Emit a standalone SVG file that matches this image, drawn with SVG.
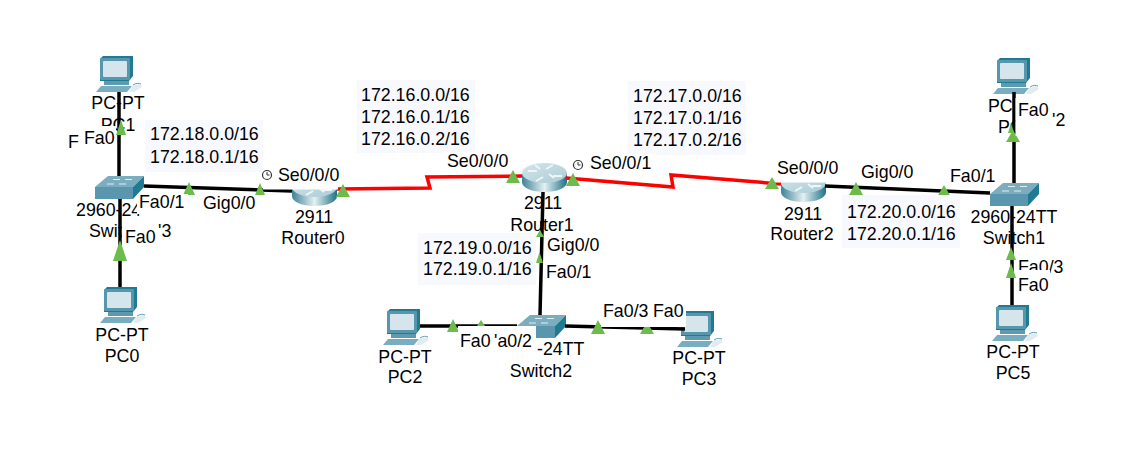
<svg xmlns="http://www.w3.org/2000/svg" width="1128" height="460" viewBox="0 0 1128 460">
<style>
text{font-family:"Liberation Sans",Arial,sans-serif;font-size:17.8px;fill:#000}
.m{text-anchor:middle}
.k{fill:none;stroke:#000;stroke-width:3.5}
.r{fill:none;stroke:#f00;stroke-width:3.5}
.t{fill:#6dbb4b}
.w{fill:#fff}
.n{fill:#f8f8ff}
.c{fill:#fff;stroke:#333;stroke-width:1.2}
</style>
<defs>
<linearGradient id="rb" x1="0" x2="1" y1="0" y2="0"><stop offset="0" stop-color="#3f8298"/><stop offset=".5" stop-color="#e4f0f3"/><stop offset="1" stop-color="#1f7288"/></linearGradient>
<linearGradient id="rt" x1="0" x2="1" y1="0" y2="1"><stop offset="0" stop-color="#d5e5ea"/><stop offset="1" stop-color="#a9ccd7"/></linearGradient>
<symbol id="pc" width="46" height="37" viewBox="0 0 46 37" overflow="visible">
<polygon points="4,3 7,0 37,0 37,20 33,25 4,25" fill="#1f7a92"/>
<rect x="4" y="2" width="30" height="22" rx="1" fill="#5797ad"/>
<rect x="7" y="5" width="24" height="16" rx="1" fill="#d6e4ec"/>
<rect x="8" y="25" width="25" height="4" fill="#5d9ab0"/>
<polygon points="5,30 36,30 31,36 0,36" fill="#78aec0"/>
<polygon points="36,30 44,28 46,31 38,36 33,36" fill="#e0ecf0"/>
<path d="M37 29c3-2 6-2 8-1" fill="none" stroke="#5d9fb5"/>
</symbol>
<symbol id="sw" width="49" height="23" viewBox="0 0 49 23" overflow="visible">
<polygon points="0,11 13,0 49,0 38,11" fill="#7badbe"/>
<rect x="0" y="11" width="38" height="12" fill="#5a97ae"/>
<polygon points="38,11 49,0 49,11 38,23" fill="#1f7a92"/>
<path d="M12 8h7M24 8h7M18 3.500h7M30 3.500h7" stroke="#dfeef2" stroke-width="1.200"/>
</symbol>
<symbol id="rtr" width="45" height="29" viewBox="0 0 45 29" overflow="visible">
<path d="M0 10V19C0 25 10 29 22.500 29S45 25 45 19V10Z" fill="url(#rb)"/>
<ellipse cx="22.500" cy="10" rx="22.500" ry="10" fill="url(#rt)"/>
<path d="M6 8h9M31 13h9M24 6l7-4M14 18l7-4M27 11l5 4M13 2l5 4" stroke="#f0f6f8" stroke-width="1.800" fill="none"/>
</symbol>
</defs>

<g id="PC1"><use href="#pc" x="96" y="56"/><text class="m" x="118" y="109">PC-PT</text><text class="m" x="118" y="131">PC1</text></g>
<g id="PC0"><use href="#pc" x="100" y="287"/><text class="m" x="122" y="341">PC-PT</text><text class="m" x="122" y="362">PC0</text></g>
<g id="Switch0"><use href="#sw" x="95" y="176"/><text x="76" y="216">2960-24</text><text x="89" y="237">Swit</text></g>
<g id="Router0"><use href="#rtr" x="292" y="177"/><text class="m" x="314" y="223">2911</text><text class="m" x="313" y="244">Router0</text></g>
<g id="Router1"><use href="#rtr" x="522" y="163"/><text class="m" x="543" y="209">2911</text><text class="m" x="542" y="231">Router1</text></g>
<g id="Router2"><use href="#rtr" x="781" y="173"/><text class="m" x="803" y="220">2911</text><text class="m" x="802" y="240">Router2</text></g>
<g id="Switch2"><use href="#sw" x="517" y="315"/><text x="537" y="355">-24TT</text><text class="m" x="541" y="377">Switch2</text></g>
<g id="PC2"><use href="#pc" x="383" y="309"/><text class="m" x="405" y="363">PC-PT</text><text class="m" x="405" y="383">PC2</text></g>
<g id="PC3"><use href="#pc" x="677" y="311"/><text class="m" x="699" y="364">PC-PT</text><text class="m" x="699" y="385">PC3</text></g>
<g id="Switch1"><use href="#sw" x="990" y="183"/><text class="m" x="1014" y="223">2960-24TT</text><text class="m" x="1014" y="244">Switch1</text></g>
<g id="PC4"><use href="#pc" x="993" y="58"/><text x="988" y="112">PC</text><text x="998" y="133">PC</text></g>
<g id="PC5"><use href="#pc" x="992" y="305"/><text class="m" x="1013" y="358">PC-PT</text><text class="m" x="1013" y="379">PC5</text></g>

<g id="connectors">
<path class="k" d="M119 92V176"/>
<path class="k" d="M120 199V287"/>
<path class="k" d="M144 186L292 191"/>
<path class="r" d="M337 189L430 188L427 177L522 176"/>
<path class="r" d="M566 178L673 187L671 175L781 184"/>
<path class="k" d="M825 186L990 193"/>
<path class="k" d="M543 192L540 315"/>
<path class="k" d="M420 326H517"/>
<path class="k" d="M565 326L685 329"/>
<path class="k" d="M1014 92V183"/>
<path class="k" d="M1012 206L1012 305"/>
<g class="t">
<polygon points="121,120 126,135 116,135"/>
<polygon points="120,240 127,261 113,261"/>
<polygon points="189,182 195,195 183,195"/>
<polygon points="260,183 265,195 255,195"/>
<polygon points="343,184 350,197 336,197"/>
<polygon points="513,170 520,183 506,183"/>
<polygon points="573,173 580,186 566,186"/>
<polygon points="540,230 544,237 536,237"/>
<polygon points="453,319 459,332 447,332"/>
<polygon points="481,320 485,326 477,326"/>
<polygon points="598,320 605,334 591,334"/>
<polygon points="647,322 654,334 640,334"/>
<polygon points="772,177 779,189 765,189"/>
<polygon points="856,182 863,195 849,195"/>
<polygon points="944,185 951,197 937,197"/>
<polygon points="1013,130 1020,142 1006,142"/>
<polygon points="1011,123 1014,133 1008,133"/>
<polygon points="1011,247 1016,260 1006,260"/>
<polygon points="1011,263 1016,278 1006,278"/>
</g>
</g>

<g id="networks">
<rect class="n" x="145" y="120" width="118" height="52"/>
<text x="150" y="140">172.18.0.0/16</text><text x="150" y="163">172.18.0.1/16</text>
<rect class="n" x="357" y="80" width="118" height="73"/>
<text x="361" y="101">172.16.0.0/16</text><text x="361" y="123">172.16.0.1/16</text><text x="361" y="145">172.16.0.2/16</text>
<rect class="n" x="628" y="81" width="118" height="74"/>
<text x="633" y="102">172.17.0.0/16</text><text x="633" y="124">172.17.0.1/16</text><text x="633" y="146">172.17.0.2/16</text>
<rect class="n" x="418" y="233" width="118" height="52"/>
<text x="423" y="254">172.19.0.0/16</text><text x="423" y="275">172.19.0.1/16</text>
<polygon class="t" points="539.500,252 543,263 536,263"/>
<rect class="n" x="842" y="195" width="118" height="53"/>
<text x="847" y="218">172.20.0.0/16</text><text x="847" y="240">172.20.0.1/16</text>
</g>

<g id="ports">
<rect class="w" x="66" y="126" width="50" height="26"/>
<text x="68" y="148">F</text><text x="84" y="144">Fa0</text>
<rect class="w" x="137" y="194" width="51" height="20"/>
<text x="139" y="208">Fa0/1</text>
<rect class="w" x="200" y="195" width="56" height="20"/>
<text x="203" y="209">Gig0/0</text>
<rect class="w" x="263" y="166" width="75" height="23.500"/>
<circle class="c" cx="267" cy="175" r="4.500"/><path d="M267 172v3h2.500" fill="none" stroke="#333"/>
<text x="278" y="181">Se0/0/0</text>
<rect class="w" x="122" y="225" width="50" height="15"/>
<rect class="w" x="127" y="240" width="45" height="8"/>
<text x="125" y="243">Fa0</text><text x="158" y="237">'3</text>
<rect class="w" x="443" y="152" width="66" height="18"/>
<text x="447" y="167">Se0/0/0</text>
<rect class="w" x="574" y="154" width="82" height="19"/>
<circle class="c" cx="578" cy="165" r="4.500"/><path d="M578 162v3h2.500" fill="none" stroke="#333"/>
<text x="590" y="169">Se0/0/1</text>
<rect class="w" x="775" y="159" width="66" height="23.500"/>
<text x="777" y="174">Se0/0/0</text>
<rect class="w" x="859" y="163" width="58" height="19"/>
<text x="861" y="178">Gig0/0</text>
<rect class="w" x="948" y="167" width="50" height="18"/>
<text x="950" y="182">Fa0/1</text>
<text x="547" y="251">Gig0/0</text>
<text x="546" y="278">Fa0/1</text>
<rect class="w" x="458" y="326" width="78" height="26"/>
<text x="460" y="347">Fa0</text><text x="494" y="347">'a0/2</text>
<rect class="w" x="601" y="302" width="85" height="25"/>
<text x="603" y="317">Fa0/3</text><text x="653" y="317">Fa0</text>
<rect class="w" x="1015.500" y="98" width="35" height="38"/>
<text x="1018" y="116">Fa0</text><text x="1052" y="126">'2</text>
<text x="1018" y="273">Fa0/3</text>
<rect class="w" x="1016" y="270" width="34" height="26"/>
<text x="1018" y="291">Fa0</text>
</g>
</svg>
